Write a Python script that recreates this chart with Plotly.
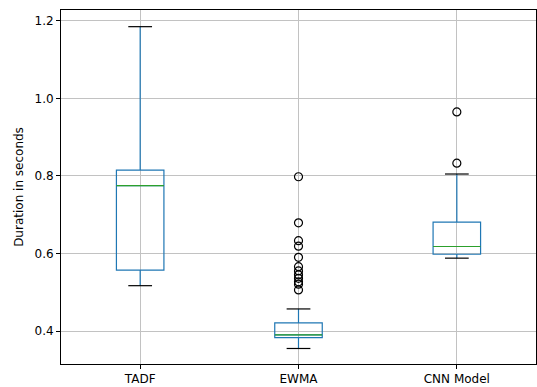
import plotly.graph_objects as go

categories = ["TADF", "EWMA", "CNN Model"]
q1 = [0.557, 0.383, 0.598]
median = [0.775, 0.390, 0.618]
q3 = [0.815, 0.421, 0.681]
lower_whisker = [0.517, 0.355, 0.588]
upper_whisker = [1.185, 0.457, 0.805]
outliers = [
    [],
    [0.798, 0.679, 0.633, 0.619, 0.590, 0.566, 0.555, 0.545, 0.536, 0.527, 0.521, 0.506],
    [0.965, 0.833],
]
y_ticks = [0.4, 0.6, 0.8, 1.0, 1.2]

BOX_W = 0.30
CAP_W = 0.15
BLUE = "#1f77b4"
GREEN = "#2ca02c"
positions = [i + 1 for i in range(len(categories))]

fig = go.Figure()
for i, cat in enumerate(categories):
    p = positions[i]
    fig.add_trace(go.Box(
        x=[p], q1=[q1[i]], median=[median[i]], q3=[q3[i]],
        lowerfence=[lower_whisker[i]], upperfence=[upper_whisker[i]],
        width=BOX_W, whiskerwidth=0, boxpoints=False,
        line=dict(color=BLUE, width=1.2), fillcolor="rgba(0,0,0,0)",
        name=cat, showlegend=False, hoverinfo="skip",
    ))
    # median line
    fig.add_trace(go.Scatter(
        x=[p - BOX_W / 2, p + BOX_W / 2], y=[median[i], median[i]],
        mode="lines", line=dict(color=GREEN, width=1.2),
        showlegend=False, hoverinfo="skip",
    ))
    # caps
    for v in (lower_whisker[i], upper_whisker[i]):
        fig.add_trace(go.Scatter(
            x=[p - CAP_W / 2, p + CAP_W / 2], y=[v, v],
            mode="lines", line=dict(color="black", width=1.2),
            showlegend=False, hoverinfo="skip",
        ))
    if outliers[i]:
        fig.add_trace(go.Scatter(
            x=[p] * len(outliers[i]), y=outliers[i], mode="markers",
            marker=dict(symbol="circle-open", size=8, color="black",
                        line=dict(width=1.2, color="black")),
            showlegend=False, hoverinfo="skip",
        ))

axis_common = dict(
    showline=True, linecolor="black", linewidth=1, mirror=True,
    ticks="outside", ticklen=4, tickcolor="black", tickwidth=1,
    showgrid=True, gridcolor="#c2c2c2", gridwidth=1, zeroline=False,
    tickfont=dict(family="DejaVu Sans", size=12, color="black"),
)

fig.update_layout(
    width=537, height=387,
    margin=dict(l=61, r=1, t=10, b=23),
    paper_bgcolor="white", plot_bgcolor="white",
    font=dict(family="DejaVu Sans", size=12, color="black"),
    xaxis=dict(range=[0.5, 3.5], tickvals=positions, ticktext=categories, **axis_common),
    yaxis=dict(range=[0.315, 1.228], tickvals=y_ticks, tickformat=".1f",
               title=dict(text="Duration in seconds", standoff=8,
                          font=dict(family="DejaVu Sans", size=12)),
               **axis_common),
)

fig.write_html(
    "out.html",
    config={"displayModeBar": False},
    post_script="document.body.style.margin='0';document.body.style.overflow='hidden';",
)
